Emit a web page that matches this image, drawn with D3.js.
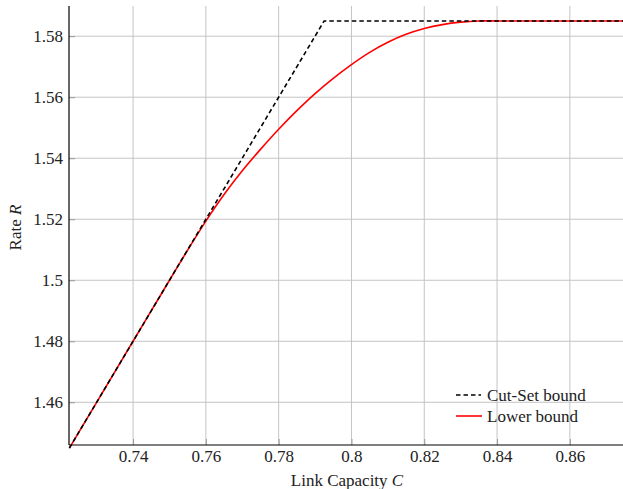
<!DOCTYPE html>
<html>
<head>
<meta charset="utf-8">
<script src="https://cdn.jsdelivr.net/npm/d3@7/dist/d3.min.js"></script>
<style>
body{margin:0;background:#fff;}
</style>
</head>
<body>
<svg id="c" width="623" height="489"></svg>
<script>
const xTicks = [0.74, 0.76, 0.78, 0.8, 0.82, 0.84, 0.86];
const yTicks = [1.46, 1.48, 1.5, 1.52, 1.54, 1.56, 1.58];
const xTickLabels = ["0.74", "0.76", "0.78", "0.8", "0.82", "0.84", "0.86"];
const yTickLabels = ["1.46", "1.48", "1.5", "1.52", "1.54", "1.56", "1.58"];

const cutSetC = [0.7225, 0.7925, 0.875];
const cutSetR = [1.445, 1.585, 1.585];

const lowerC = [0.7225, 0.73, 0.74, 0.75, 0.755, 0.76, 0.765, 0.77, 0.775, 0.78, 0.785, 0.79, 0.795, 0.80, 0.805, 0.81, 0.815, 0.82, 0.825, 0.83, 0.835, 0.84, 0.85, 0.86, 0.875];
const lowerR = [1.445, 1.46, 1.48, 1.50, 1.5099, 1.5194, 1.5281, 1.5359, 1.5429, 1.5495, 1.5556, 1.5612, 1.5662, 1.5707, 1.5747, 1.5780, 1.5806, 1.5825, 1.5838, 1.5846, 1.5850, 1.585, 1.585, 1.585, 1.585];

const legendLabels = ["Cut-Set bound", "Lower bound"];

const FONT = "'Liberation Serif', 'Times New Roman', Tinos, 'Noto Serif', 'DejaVu Serif', serif";
const svg = d3.select("#c");
const L = 69, R = 623, T = 6, B = 445;
const x = d3.scaleLinear().domain([0.7224, 0.8746]).range([L, R]);
const y = d3.scaleLinear().domain([1.446, 1.5899]).range([B, T]);

function setFont(sel) {
  sel.each(function () { this.setAttribute("font-family", FONT); this.style.fontFamily = FONT; })
     .style("font-size", "17px").attr("fill", "#222");
}

// grid
const g = svg.append("g");
g.selectAll(".vx").data(xTicks).join("line")
  .attr("x1", d => x(d)).attr("x2", d => x(d)).attr("y1", T).attr("y2", B)
  .attr("stroke", "#c4c4c4").attr("stroke-width", 1);
g.selectAll(".hy").data(yTicks).join("line")
  .attr("x1", L).attr("x2", R).attr("y1", d => y(d)).attr("y2", d => y(d))
  .attr("stroke", "#c4c4c4").attr("stroke-width", 1);

// axes
const xAxis = d3.axisBottom(x).tickValues(xTicks).tickFormat((d, i) => xTickLabels[i]).tickSize(-6).tickPadding(5);
const yAxis = d3.axisLeft(y).tickValues(yTicks).tickFormat((d, i) => yTickLabels[i]).tickSize(-6).tickPadding(6);

const gx = svg.append("g").attr("transform", `translate(0,${B})`).call(xAxis);
const gy = svg.append("g").attr("transform", `translate(${L},0)`).call(yAxis);
[gx, gy].forEach(a => {
  a.attr("font-family", FONT).attr("font-size", 17);
  a.select(".domain").remove();
  a.selectAll(".tick line").attr("stroke", "#999");
  setFont(a.selectAll(".tick text"));
});

svg.append("line").attr("x1", L).attr("x2", L).attr("y1", T).attr("y2", B).attr("stroke", "#000").attr("stroke-width", 1.2);
svg.append("line").attr("x1", L).attr("x2", R).attr("y1", B).attr("y2", B).attr("stroke", "#000").attr("stroke-width", 1.2);

// lines
svg.append("path").datum(lowerC.map((c, i) => [c, lowerR[i]]))
  .attr("d", d3.line().x(d => x(d[0])).y(d => y(d[1])).curve(d3.curveCatmullRom.alpha(0.5)))
  .attr("fill", "none").attr("stroke", "#ff0000").attr("stroke-width", 1.6);
svg.append("path").datum(cutSetC.map((c, i) => [c, cutSetR[i]]))
  .attr("d", d3.line().x(d => x(d[0])).y(d => y(d[1]))).attr("fill", "none").attr("stroke", "#000").attr("stroke-width", 1.6)
  .attr("stroke-dasharray", "4.5,3");

// labels
const xl = svg.append("text").attr("x", (L + R) / 2 + 1).attr("y", 486).attr("text-anchor", "middle");
xl.append("tspan").text("Link Capacity ");
xl.append("tspan").attr("font-style", "italic").text("C");
setFont(xl);
const yl = svg.append("text").attr("transform", `translate(21,${(T + B) / 2 + 2}) rotate(-90)`).attr("text-anchor", "middle");
yl.append("tspan").text("Rate ");
yl.append("tspan").attr("font-style", "italic").text("R");
setFont(yl);

// legend
const leg = svg.append("g");
const ly = [395, 416];
leg.append("line").attr("x1", 456).attr("x2", 481).attr("y1", ly[0]).attr("y2", ly[0]).attr("stroke", "#000").attr("stroke-width", 1.6).attr("stroke-dasharray", "4.5,3");
leg.append("line").attr("x1", 456).attr("x2", 482).attr("y1", ly[1]).attr("y2", ly[1]).attr("stroke", "#ff0000").attr("stroke-width", 1.6);
setFont(leg.selectAll("text").data(legendLabels).join("text")
  .attr("x", 487).attr("y", (d, i) => ly[i] + 5.5).text(d => d));
</script>
</body>
</html>
